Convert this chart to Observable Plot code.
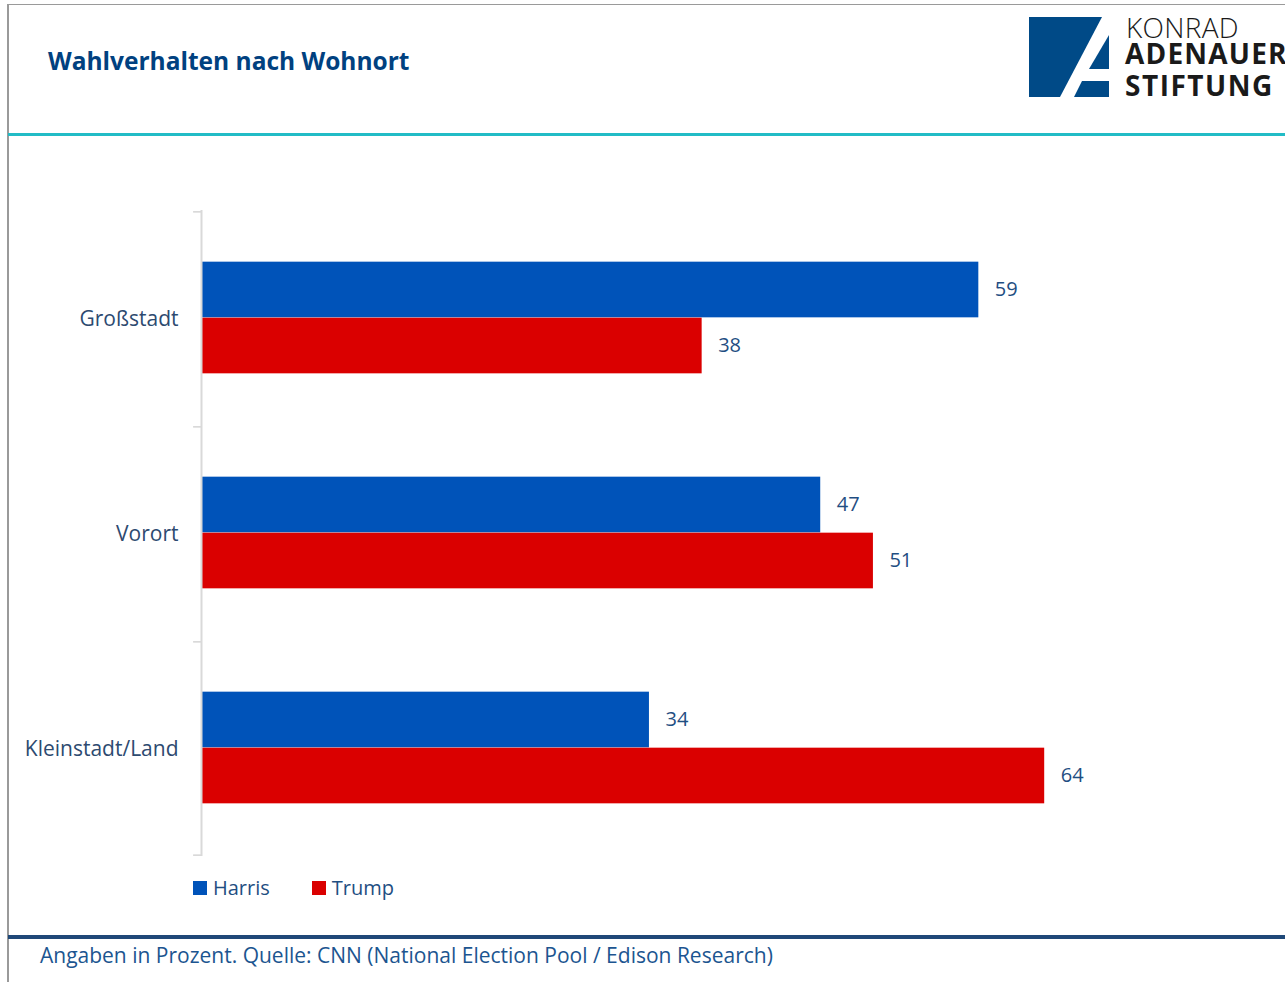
<!DOCTYPE html>
<html>
<head>
<meta charset="utf-8">
<script src="https://cdn.jsdelivr.net/npm/d3@7"></script>
<script src="https://cdn.jsdelivr.net/npm/@observablehq/plot@0.6"></script>
<style>
  html, body { margin: 0; padding: 0; background: #fff; }
  #page { position: relative; width: 1285px; height: 982px; overflow: hidden; background: #fff; font-family: "Open Sans", sans-serif; }
  .abs { position: absolute; }
  #title { left: 48px; top: 44px; font-size: 24.5px; font-weight: 700; color: #004180; white-space: nowrap; }
  #footer { left: 40px; top: 941px; font-size: 21px; color: #1c5590; white-space: nowrap; }
  #legend { left: 193px; top: 874px; font-size: 20px; color: #1f4e82; display: flex; align-items: center; }
  .item { display: flex; align-items: center; margin-right: 42px; }
  .sw { width: 14px; height: 14px; margin-right: 6px; }
  #chart { left: 0; top: 140px; }
</style>
</head>
<body>
<div id="page">
  <div class="abs" style="left:8px;top:4px;width:1277px;height:1px;background:#9a9a9a"></div>
  <div class="abs" style="left:7px;top:4px;width:2px;height:978px;background:#9a9a9a"></div>
  <div class="abs" style="left:8px;top:133px;width:1277px;height:2.5px;background:#22bcc6"></div>
  <div class="abs" style="left:8px;top:935px;width:1277px;height:3.5px;background:#1f4878"></div>
  <div id="title" class="abs">Wahlverhalten nach Wohnort</div>
  <svg class="abs" style="left:1020px;top:0" width="265" height="110">
    <polygon points="9,17 82,17 40,97 9,97" fill="#004a87"/>
    <polygon points="89,35 89,69 69,69" fill="#004a87"/>
    <polygon points="62,81 89,81 89,97 54,97" fill="#004a87"/>
    <text x="106" y="38" font-family="Open Sans" font-weight="300" font-size="28" fill="#1a1a1a" letter-spacing="0.3">KONRAD</text>
    <text x="105" y="64" font-family="Open Sans" font-weight="700" font-size="28" fill="#1a1a1a" letter-spacing="1.2">ADENAUER</text>
    <text x="105" y="96" font-family="Open Sans" font-weight="700" font-size="28" fill="#1a1a1a" letter-spacing="1.5">STIFTUNG</text>
  </svg>
  <div id="chart" class="abs"></div>
  <div id="legend" class="abs"></div>
  <div id="footer" class="abs">Angaben in Prozent. Quelle: CNN (National Election Pool / Edison Research)</div>
</div>
<script>
const categories = ["Großstadt", "Vorort", "Kleinstadt/Land"];
const seriesNames = ["Harris", "Trump"];
const harrisValues = [59, 47, 34];
const trumpValues = [38, 51, 64];
const seriesColors = ["#0053b9", "#da0000"];

const rows = [];
categories.forEach((c, i) => {
  rows.push({category: c, series: "Harris", value: harrisValues[i]});
  rows.push({category: c, series: "Trump", value: trumpValues[i]});
});
const harrisRows = rows.filter(d => d.series === "Harris");
const trumpRows = rows.filter(d => d.series === "Trump");

const width = 1285, height = 726, marginTop = 70, marginBottom = 10, marginLeft = 201, marginRight = 30;
const bw = (height - marginTop - marginBottom) / categories.length;
const barH = 56;
const padTop = (bw - 2 * barH) / 2;

const chart = Plot.plot({
  width, height, marginTop, marginBottom, marginLeft, marginRight,
  style: {fontFamily: "Open Sans", fontSize: "20px", background: "transparent"},
  x: {domain: [0, 80], axis: null},
  y: {domain: categories, padding: 0, label: null},
  color: {domain: seriesNames, range: seriesColors},
  marks: [
    Plot.barX(harrisRows, {x: "value", y: "category", fill: "series", insetTop: padTop - 1, insetBottom: bw - padTop - barH + 1}),
    Plot.barX(trumpRows, {x: "value", y: "category", fill: "series", insetTop: padTop + barH - 1, insetBottom: padTop + 1}),
    Plot.barX(categories, {x1: -0.6, x2: 0, y: d => d, fill: "#d9d9d9", insetBottom: bw - 2}),
    Plot.barX(categories.slice(-1), {x1: -0.6, x2: 0, y: d => d, fill: "#d9d9d9", insetTop: bw - 2}),
    Plot.ruleX([0], {stroke: "#d9d9d9", strokeWidth: 2}),
    Plot.text(harrisRows, {x: "value", y: "category", text: d => String(d.value), dx: 16, dy: -barH / 2 - 1, textAnchor: "start", fill: "#1f4e82", fontSize: 20}),
    Plot.text(trumpRows, {x: "value", y: "category", text: d => String(d.value), dx: 16, dy: barH / 2 - 1, textAnchor: "start", fill: "#1f4e82", fontSize: 20}),
    Plot.axisY({tickSize: 0, tickPadding: 23, color: "#2d4a70", fontSize: 21, label: null})
  ]
});
document.getElementById("chart").appendChild(chart);

const legend = document.getElementById("legend");
seriesNames.forEach((s, i) => {
  const item = document.createElement("div");
  item.className = "item";
  const sw = document.createElement("div");
  sw.className = "sw";
  sw.style.background = seriesColors[i];
  const t = document.createElement("span");
  t.textContent = s;
  item.appendChild(sw);
  item.appendChild(t);
  legend.appendChild(item);
});
</script>
</body>
</html>
